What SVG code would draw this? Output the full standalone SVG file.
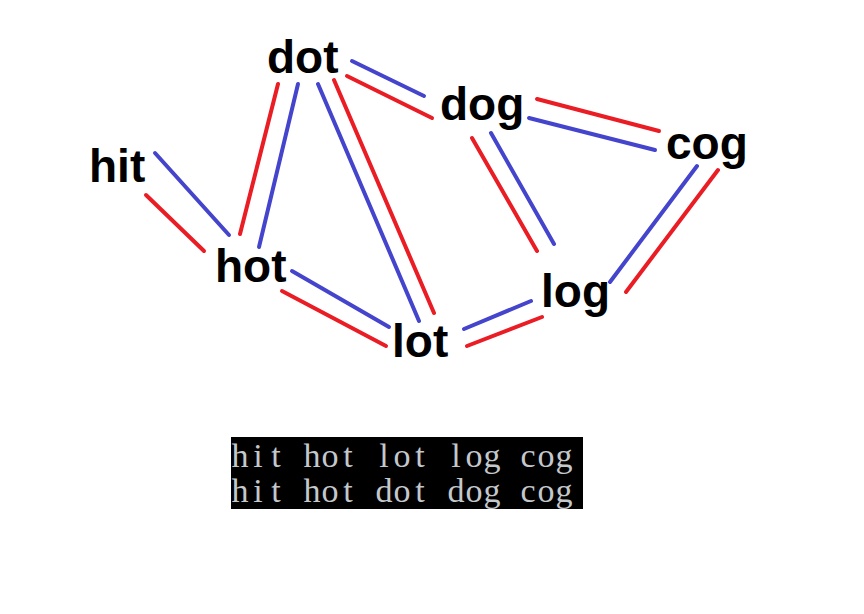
<svg xmlns="http://www.w3.org/2000/svg" width="864" height="614" viewBox="0 0 864 614">
<style>
.lbl{font-family:"Liberation Sans",Arial,sans-serif;font-weight:bold;font-size:46px;fill:#000}
.r{stroke:#ea1c24;stroke-width:4;stroke-linecap:round;fill:none}
.b{stroke:#4444cc;stroke-width:4;stroke-linecap:round;fill:none}
.con{font-family:"Liberation Serif","Times New Roman",serif;font-size:34px;fill:#c4c8cc;text-anchor:middle}
</style>
<rect width="864" height="614" fill="#fff"/>
<g id="connectors">
<line class="b" x1="155" y1="153" x2="229" y2="235"/>
<line class="r" x1="146" y1="195" x2="204" y2="251"/>
<line class="r" x1="278" y1="84" x2="240" y2="234"/>
<line class="b" x1="298" y1="84" x2="259" y2="247"/>
<line class="b" x1="318" y1="84" x2="419" y2="321"/>
<line class="r" x1="334" y1="80" x2="434" y2="313"/>
<line class="b" x1="352" y1="61" x2="424" y2="96"/>
<line class="r" x1="347" y1="76" x2="432" y2="118"/>
<line class="r" x1="537" y1="99" x2="659" y2="131"/>
<line class="b" x1="529" y1="118" x2="655" y2="150"/>
<line class="r" x1="472" y1="138" x2="537" y2="251"/>
<line class="b" x1="491" y1="133" x2="554" y2="244"/>
<line class="b" x1="697" y1="166" x2="610" y2="282"/>
<line class="r" x1="718" y1="170" x2="626" y2="292"/>
<line class="b" x1="464" y1="329" x2="531" y2="301"/>
<line class="r" x1="467" y1="346" x2="542" y2="317"/>
<line class="b" x1="292" y1="271" x2="389" y2="327"/>
<line class="r" x1="282" y1="291" x2="386" y2="346"/>
</g>
<g id="node-hit"><text class="lbl" x="89" y="182">hit</text></g>
<g id="node-dot"><text class="lbl" x="267" y="73">dot</text></g>
<g id="node-dog"><text class="lbl" x="440" y="120">dog</text></g>
<g id="node-cog"><text class="lbl" x="666" y="159">cog</text></g>
<g id="node-hot"><text class="lbl" x="215" y="282">hot</text></g>
<g id="node-log"><text class="lbl" x="541" y="307">log</text></g>
<g id="node-lot"><text class="lbl" x="392" y="357">lot</text></g>
<g id="console">
<rect x="231" y="437" width="352" height="72" fill="#000"/>
<text class="con" x="240 258 276 294 312 330 348 366 384 402 420 438 456 474 492 510 528 546 564" y="467">hit hot lot log cog</text>
<text class="con" x="240 258 276 294 312 330 348 366 384 402 420 438 456 474 492 510 528 546 564" y="502">hit hot dot dog cog</text>
</g>
</svg>
